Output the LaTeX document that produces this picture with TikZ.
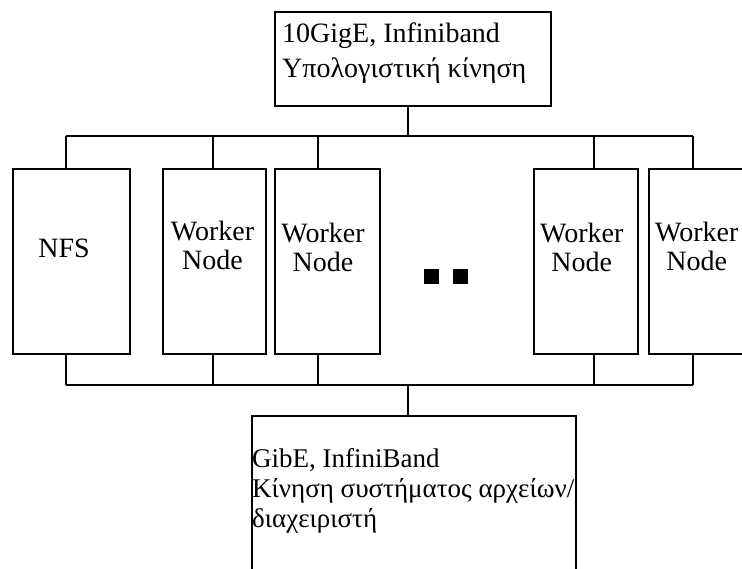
\documentclass[tikz,border=0pt]{standalone}
\usepackage{fontspec}
\setmainfont{Liberation Serif}
\begin{document}
\begin{tikzpicture}[x=1pt,y=-1pt,
  box/.style={draw, line width=1.5pt, inner sep=0pt, anchor=north west},
  wire/.style={line width=1.5pt},
  lbl/.style={font=\fontsize{28}{29.5}\selectfont, inner sep=0pt, align=center, anchor=base},
  note/.style={inner sep=0pt, align=left, anchor=base west},
  dot/.style={fill=black, inner sep=0pt, minimum size=15pt},
]
\clip (0,0) rectangle (742,568);
\fill[white] (0,0) rectangle (742,568);

% boxes
\node[box, minimum width=276pt, minimum height=94pt] (top) at (274,11) {};
\node[box, minimum width=117pt, minimum height=185pt] (nfs) at (12,168) {};
\node[box, minimum width=103pt, minimum height=185pt] (wk1) at (162,168) {};
\node[box, minimum width=105pt, minimum height=185pt] (wk2) at (274,168) {};
\node[box, minimum width=104pt, minimum height=185pt] (wk3) at (533,168) {};
\node[box, minimum width=104pt, minimum height=185pt] (wk4) at (648,168) {};
\node[box, minimum width=324pt, minimum height=170pt] (bot) at (251,415) {};

% labels (base = baseline of the last line)
\node[note, font=\fontsize{28}{35}\selectfont] (topl) at (282,77.7)
  {10GigE, Infiniband\\Υπολογιστική κίνηση};
\node[note, font=\fontsize{27}{30}\selectfont] (botl) at (252,527.5)
  {GibE, InfiniBand\\Κίνηση συστήματος αρχείων/\\διαχειριστή};
\node[lbl] (nfsl) at (64,257) {NFS};
\node[lbl] (wk1l) at (212.5,269.5) {Worker\\Node};
\node[lbl] (wk2l) at (323,271.5) {Worker\\Node};
\node[lbl] (wk3l) at (581.7,271.5) {Worker\\Node};
\node[lbl] (wk4l) at (696.7,270.5) {Worker\\Node};

% ellipsis squares
\node[dot] (dotA) at (431,276.5) {};
\node[dot] (dotB) at (460,276.5) {};

% bus taps
\coordinate (hub) at (408,136);
\coordinate (tNFS) at (66,136);
\coordinate (tW1) at (213,136);
\coordinate (tW2) at (318,136);
\coordinate (tW3) at (594,136);
\coordinate (tW4) at (693,136);
\coordinate (hubB) at (408,385);
\coordinate (bNFS) at (66,385);
\coordinate (bW1) at (213,385);
\coordinate (bW2) at (318,385);
\coordinate (bW3) at (594,385);
\coordinate (bW4) at (693,385);

% upper bus
\draw[wire] (tNFS) -- (tW4);
\draw[wire] (hub) -- (hub |- top.south);
\foreach \t/\b in {tNFS/nfs, tW1/wk1, tW2/wk2, tW3/wk3, tW4/wk4}
  \draw[wire] (\t) -- (\t |- \b.north);

% lower bus
\draw[wire] (bNFS) -- (bW4);
\draw[wire] (hubB) -- (hubB |- bot.north);
\foreach \t/\b in {bNFS/nfs, bW1/wk1, bW2/wk2, bW3/wk3, bW4/wk4}
  \draw[wire] (\t) -- (\t |- \b.south);
\end{tikzpicture}
\end{document}
